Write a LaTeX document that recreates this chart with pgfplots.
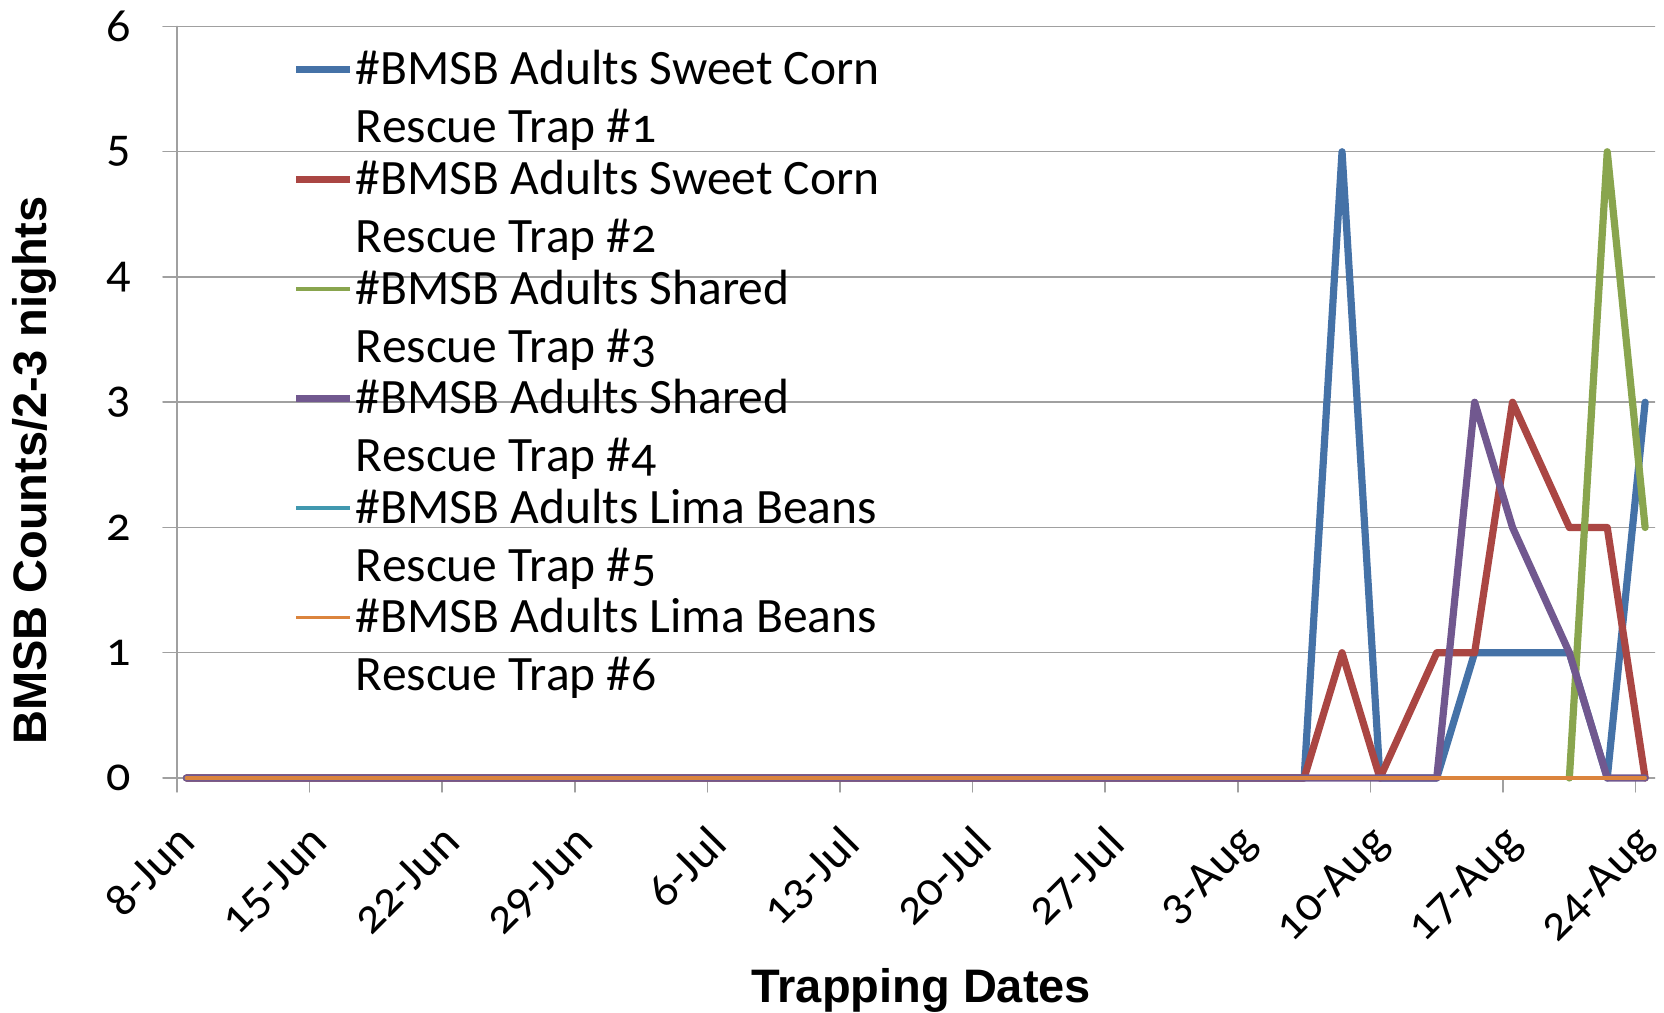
\documentclass[border=0pt]{standalone}
\usepackage{pgfplots}
\usepackage{pgfplotstable}
\pgfplotsset{compat=1.18}
\usepackage{fontspec}
\setmainfont{Carlito}[Numbers=OldStyle]
\newfontfamily\labelfont{Liberation Sans}
\definecolor{c1}{HTML}{4572A7}
\definecolor{c2}{HTML}{AA4643}
\definecolor{c3}{HTML}{89A54E}
\definecolor{c4}{HTML}{71588F}
\definecolor{c5}{HTML}{4198AF}
\definecolor{c6}{HTML}{DB843D}
\definecolor{gridgray}{HTML}{A0A0A0}
\pgfplotstableread{
x    t1 t2 t3  t4 t5 t6
0.5  0  0  nan 0  0  0
3.5  0  0  nan 0  0  0
5.5  0  0  nan 0  0  0
7.5  0  0  nan 0  0  0
10.5 0  0  nan 0  0  0
12.5 0  0  nan 0  0  0
14.5 0  0  nan 0  0  0
17.5 0  0  nan 0  0  0
19.5 0  0  nan 0  0  0
21.5 0  0  nan 0  0  0
24.5 0  0  nan 0  0  0
26.5 0  0  nan 0  0  0
28.5 0  0  nan 0  0  0
31.5 0  0  nan 0  0  0
33.5 0  0  nan 0  0  0
35.5 0  0  nan 0  0  0
38.5 0  0  nan 0  0  0
40.5 0  0  nan 0  0  0
42.5 0  0  nan 0  0  0
45.5 0  0  nan 0  0  0
47.5 0  0  nan 0  0  0
49.5 0  0  nan 0  0  0
52.5 0  0  nan 0  0  0
54.5 0  0  nan 0  0  0
56.5 0  0  nan 0  0  0
59.5 0  0  nan 0  0  0
61.5 5  1  nan 0  0  0
63.5 0  0  nan 0  0  0
66.5 0  1  nan 0  0  0
68.5 1  1  nan 3  0  0
70.5 1  3  nan 2  0  0
73.5 1  2  0   1  0  0
75.5 0  2  5   0  0  0
77.5 3  0  2   0  0  0
}\data
\begin{document}
\begin{tikzpicture}
\begin{axis}[
  scale only axis, width=738.8pt, height=375.75pt,
  xmin=0, xmax=78, ymin=0, ymax=6,
  axis x line=bottom, axis y line=left,
  axis line style={-, draw=gridgray, line width=0.75pt},
  xtick={0,7,...,77},
  xticklabels={8-Jun,15-Jun,22-Jun,29-Jun,6-Jul,13-Jul,20-Jul,27-Jul,3-Aug,10-Aug,17-Aug,24-Aug},
  ytick={0,1,...,6},
  ymajorgrids,
  grid style={draw=gridgray, line width=0.75pt},
  tick style={draw=gridgray, line width=0.75pt},
  tick align=outside, major tick length=7pt,
  /pgf/number format/assume math mode=true,
  xticklabel style={font=\fontsize{24}{28}\selectfont, xshift=-0.8pt, rotate=45, anchor=north east, inner sep=0pt},
  xticklabel shift=15.3pt,
  yticklabel style={font=\fontsize{24}{28}\selectfont, anchor=east, inner sep=0pt},
  yticklabel shift=15.7pt,
  clip=false,
  unbounded coords=jump,
  every axis x label/.style={at={(rel axis cs:0.5,0)}, xshift=2.75pt, yshift=-112.5pt, anchor=base, font=\labelfont\bfseries\fontsize{23.5}{28}\selectfont},
  every axis y label/.style={at={(rel axis cs:0,0.409)}, xshift=-71.5pt, rotate=90, anchor=center, font=\labelfont\bfseries\fontsize{23.5}{28}\selectfont},
  xlabel={Trapping Dates},
  ylabel={BMSB Counts/2-3 nights},
  legend style={at={(rel axis cs:0,1)}, xshift=57.9pt, yshift=-12pt, anchor=north west, draw=none, fill=none, inner sep=0pt, outer sep=0pt, row sep=7.1pt, column sep=1pt,
    nodes={inner sep=0pt, align=left, font=\fontsize{24.75}{29}\selectfont}},
  legend cell align=left,
  legend image code/.code={\draw[#1] (0pt,14.3pt) -- (27pt,14.3pt);},
  line join=round, line cap=round,
]
\coordinate (ll) at (rel axis cs:0,0);
\coordinate (ur) at (rel axis cs:1,1);
\addplot[c1, line width=3.6pt] table[x=x, y=t1] {\data};
\addlegendentry{\#BMSB Adults Sweet Corn\\Rescue Trap \#1}
\addplot[c2, line width=3.6pt] table[x=x, y=t2] {\data};
\addlegendentry{\#BMSB Adults Sweet Corn\\Rescue Trap \#2}
\addplot[c3, line width=3.6pt, forget plot] table[x=x, y=t3] {\data};
\addlegendimage{c3, line width=1.8pt}
\addlegendentry{\#BMSB Adults Shared\\Rescue Trap \#3}
\addplot[c4, line width=3.6pt] table[x=x, y=t4] {\data};
\addlegendentry{\#BMSB Adults Shared\\Rescue Trap \#4}
\addplot[c5, line width=1.8pt] table[x=x, y=t5] {\data};
\addlegendentry{\#BMSB Adults Lima Beans\\Rescue Trap \#5}
\addplot[c6, line width=1.8pt] table[x=x, y=t6] {\data};
\addlegendentry{\#BMSB Adults Lima Beans\\Rescue Trap \#6}
\end{axis}
\pgfresetboundingbox
\path ([shift={(-88.5pt,-117.5pt)}]ll) rectangle ([shift={(4.7pt,13.25pt)}]ur);
\end{tikzpicture}
\end{document}
